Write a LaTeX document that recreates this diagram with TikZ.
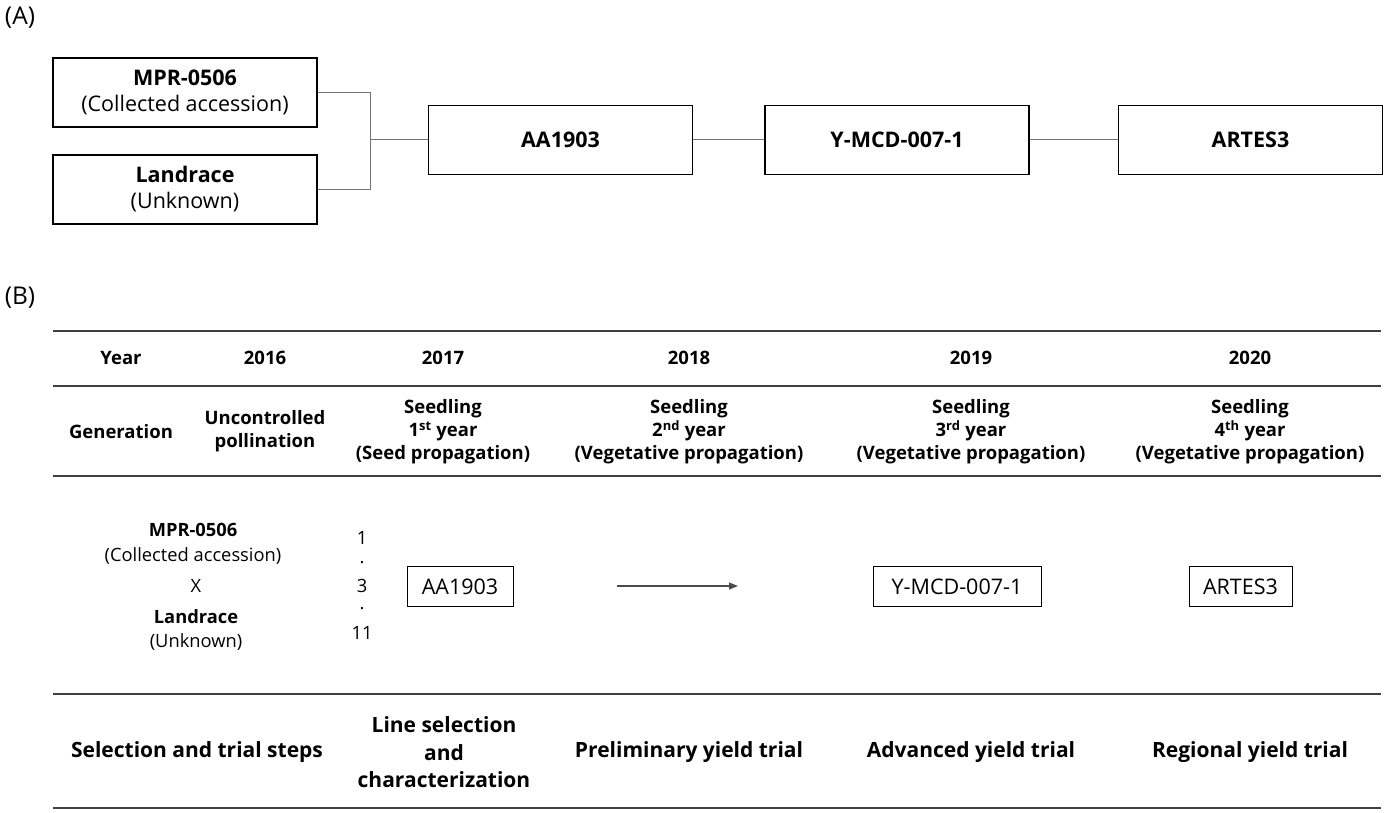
\documentclass[tikz,border=0pt]{standalone}
\usepackage{fontspec}
\setmainfont{Open Sans}
\usetikzlibrary{arrows.meta}
\tikzset{
  boxA/.style={draw, line width=1.3pt, minimum width=264pt, minimum height=69pt, inner sep=0pt, align=center, font=\fontsize{21.5}{26}\selectfont},
  boxB/.style={draw, line width=1pt, minimum height=40pt, inner sep=0pt, align=center, font=\fontsize{21.5}{24}\selectfont},
  conn/.style={draw=black!55, line width=1pt},
  rulex/.style={draw=black!75, line width=2pt},
  lab/.style={font=\fontsize{24.5}{28}\selectfont},
  hdb/.style={align=center, font=\bfseries\fontsize{18.5}{23}\selectfont},
  txt/.style={align=center, font=\fontsize{18.3}{24.5}\selectfont},
  bot/.style={align=center, font=\bfseries\fontsize{21}{27.5}\selectfont},
}
\begin{document}
\begin{tikzpicture}[x=1pt,y=-1pt]
\useasboundingbox[fill=white] (0,0) rectangle (1386,813);
% (A)
\node[lab] (labA) at (20,18) {(A)};
\node[boxA] (mpr) at (185,92.5) {\textbf{MPR-0506}\\(Collected accession)};
\node[boxA] (land) at (185,189.5) {\textbf{Landrace}\\(Unknown)};
\node[boxA] (aa) at (560.5,140) {\textbf{AA1903}};
\node[boxA] (ymcd) at (897,140) {\textbf{Y-MCD-007-1}};
\node[boxA] (artes) at (1250.5,140) {\textbf{ARTES3}};
\coordinate (j) at (370,140);
\draw[conn] (mpr.east) -| (j);
\draw[conn] (land.east) -| (j);
\draw[conn] (j) -- (aa.west);
\draw[conn] (aa.east) -- (ymcd.west);
\draw[conn] (ymcd.east) -- (artes.west);
% (B)
\node[lab] (labB) at (20,298) {(B)};
\coordinate (r1l) at (53,331); \coordinate (r1r) at (1381,331);
\coordinate (r2l) at (53,386); \coordinate (r2r) at (1381,386);
\coordinate (r3l) at (53,476); \coordinate (r3r) at (1381,476);
\coordinate (r4l) at (53,694); \coordinate (r4r) at (1381,694);
\coordinate (r5l) at (53,808); \coordinate (r5r) at (1381,808);
\draw[rulex] (r1l) -- (r1r);
\draw[rulex] (r2l) -- (r2r);
\draw[rulex] (r3l) -- (r3r);
\draw[rulex] (r4l) -- (r4r);
\draw[rulex] (r5l) -- (r5r);
% header row
\node[hdb] (year) at (121,358) {Year};
\node[hdb] (y16) at (265,358) {2016};
\node[hdb] (y17) at (443,358) {2017};
\node[hdb] (y18) at (689,358) {2018};
\node[hdb] (y19) at (971,358) {2019};
\node[hdb] (y20) at (1250,358) {2020};
% generation row
\node[hdb] (gen) at (121,432) {Generation};
\node[hdb] (g16) at (265,431.5) {Uncontrolled\\pollination};
\node[hdb] (g17) at (443,432) {Seedling\\1\textsuperscript{st} year\\(Seed propagation)};
\node[hdb] (g18) at (689,432) {Seedling\\2\textsuperscript{nd} year\\(Vegetative propagation)};
\node[hdb] (g19) at (971,432) {Seedling\\3\textsuperscript{rd} year\\(Vegetative propagation)};
\node[hdb] (g20) at (1250,432) {Seedling\\4\textsuperscript{th} year\\(Vegetative propagation)};
% cross
\node[txt] (p1) at (193,544) {\textbf{MPR-0506}\\(Collected accession)};
\node[txt] (x) at (196,586) {X};
\node[txt] (p2) at (196,630) {\textbf{Landrace}\\(Unknown)};
\node[txt] (n1) at (362,538) {1};
\node[txt] (d1) at (362,563) {.};
\node[txt] (n3) at (362,586) {3};
\node[txt] (d2) at (362,609) {.};
\node[txt] (n11) at (362,633) {11};
\node[boxB, minimum width=106pt] (baa) at (460,586.5) {AA1903};
\coordinate (a1) at (617,586);
\coordinate (a2) at (738,586);
\draw[black!70, line width=1.2pt, -{Triangle[length=9pt,width=7pt]}] (a1) -- (a2);
\node[boxB, minimum width=168pt] (bym) at (957,586.5) {Y-MCD-007-1};
\node[boxB, minimum width=103pt] (bar) at (1240.5,586.5) {ARTES3};
% steps row
\node[bot] (s0) at (197,752) {Selection and trial steps};
\node[bot] (s1) at (444,752.5) {Line selection\\and\\characterization};
\node[bot] (s2) at (689,752) {Preliminary yield trial};
\node[bot] (s3) at (971,752) {Advanced yield trial};
\node[bot] (s4) at (1250,752) {Regional yield trial};
\end{tikzpicture}
\end{document}
